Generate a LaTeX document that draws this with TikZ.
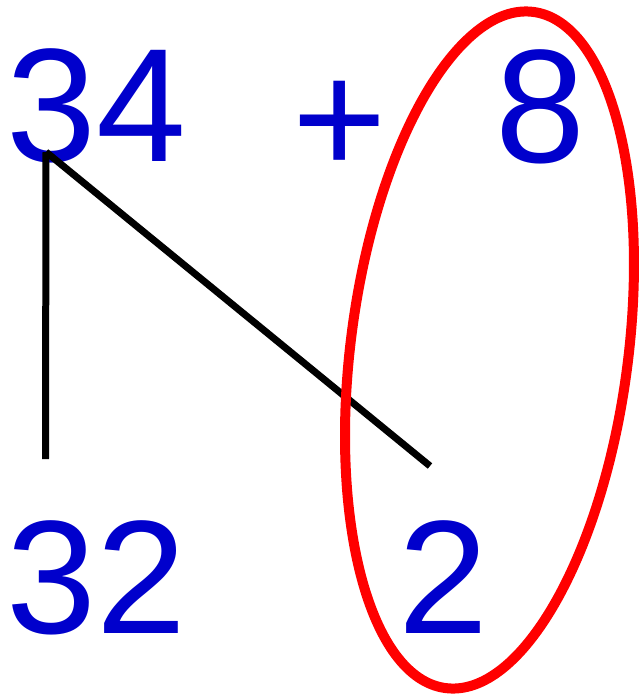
\documentclass[tikz,border=0pt]{standalone}
\usepackage{fontspec}
\setmainfont{Liberation Sans}
\definecolor{numblue}{RGB}{0,0,204}

\begin{document}
\begin{tikzpicture}[x=0.02cm, y=-0.02cm,
    num/.style={numblue, inner sep=0pt, anchor=base west, font=\fontsize{92}{92}\selectfont},
    split/.style={black, line width=0.14cm},
    ring/.style={red, line width=0.2cm}]
    \useasboundingbox (0,0) rectangle (639,694);

    % Top row
    \node[num] (sum)  at (6,161)   {34};
    \node[num, anchor=base] (plus) at (340,174) {+};
    \node[num] (eight) at (495,162) {8};

    % Bottom row
    \node[num] (tens) at (6,633)   {32};
    \node[num] (two)  at (398,633) {2};

    % Splitting 34 into 32 and 2
    \coordinate (fork)  at (46,152);
    \coordinate (left)  at (45.5,459);
    \coordinate (right) at (430,466);
    \draw[split] (fork) -- (left);
    \draw[split] (fork) -- (right);

    % Ring round 8 and 2
    \coordinate (mid) at (489.5,350);
    \draw[ring, rotate around={-7.4:(mid)}] (mid) ellipse [x radius=2.776cm, y radius=6.82cm];
\end{tikzpicture}
\end{document}
